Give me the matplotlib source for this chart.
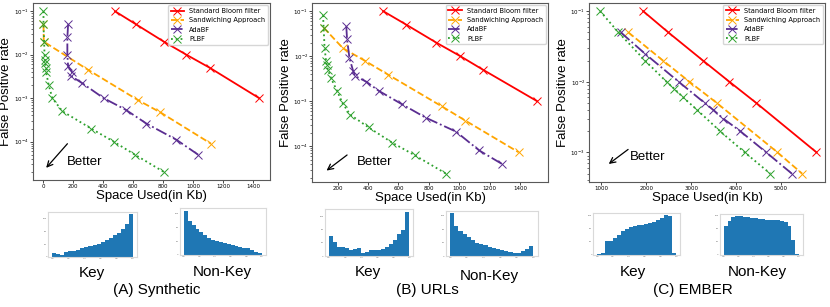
import matplotlib.pyplot as plt

# ---- (A) Synthetic ----
syn_bf_x = [480, 620, 805, 955, 1111, 1440]
syn_bf_y = [0.1, 0.05, 0.02, 0.01, 0.005, 0.001]
syn_sw_x = [3, 5, 300, 633, 782, 1118]
syn_sw_y = [0.05, 0.02, 0.0045, 0.0009, 0.00047, 0.00009]
syn_ada_x = [167, 162, 162, 167, 193, 189, 262, 404, 551, 689, 889, 1033]
syn_ada_y = [0.05, 0.025, 0.01, 0.0054, 0.004, 0.0032, 0.0022, 0.001,
             0.00054, 0.00026, 0.00011, 0.00005]
syn_plbf_x = [3, 3, 7, 10, 13, 13, 20, 20, 38, 62, 129, 320, 470, 612, 805]
syn_plbf_y = [0.1, 0.05, 0.02, 0.01, 0.0075, 0.0063, 0.005, 0.004, 0.002,
              0.001, 0.0005, 0.0002, 0.0001, 5e-5, 2e-5]

# ---- (B) URLs ----
url_bf_x = [500, 652, 849, 1007, 1156, 1512]
url_bf_y = [0.1, 0.05, 0.02, 0.01, 0.005, 0.001]
url_sw_x = [108, 235, 382, 531, 887, 1040, 1391]
url_sw_y = [0.043, 0.015, 0.0078, 0.0039, 0.00076, 0.00037, 0.000073]
url_ada_x = [257, 262, 278, 302, 316, 389, 470, 624, 779, 979, 1132, 1282]
url_ada_y = [0.046, 0.024, 0.009, 0.0047, 0.0036, 0.0027, 0.0017, 0.00085,
             0.00043, 0.00021, 0.00008, 0.00004]
url_plbf_x = [104, 108, 114, 124, 130, 137, 157, 196, 233, 283, 404, 558, 706, 913]
url_plbf_y = [0.081, 0.043, 0.0155, 0.0078, 0.0063, 0.0049, 0.0032, 0.0017,
              0.00089, 0.0005, 0.00026, 0.00012, 0.000063, 0.0000245]

# ---- (C) EMBER ----
emb_bf_x = [1930, 2490, 3260, 3850, 4450, 5790]
emb_bf_y = [0.1, 0.05, 0.02, 0.01, 0.005, 0.001]
emb_sw_x = [1600, 2370, 2960, 3570, 4920, 5470]
emb_sw_y = [0.05, 0.02, 0.01, 0.005, 0.001, 0.0005]
emb_ada_x = [1430, 1970, 2720, 3300, 3490, 3715, 4090, 4670, 5240]
emb_ada_y = [0.05, 0.025, 0.01, 0.005, 0.004, 0.003, 0.002, 0.001, 0.0005]
emb_plbf_x = [970, 1380, 1970, 2450, 2620, 2820, 3130, 3640, 4190, 4760]
emb_plbf_y = [0.1, 0.05, 0.02, 0.01, 0.008, 0.006, 0.004, 0.002, 0.001, 0.0005]

# ---- score histograms (20 bins on [0, 1]) ----
syn_key = [12, 10, 5, 15, 18, 19, 22, 27, 30, 35, 38, 41, 47, 52, 59, 67, 75, 87, 103, 133]
syn_nonkey = [130, 100, 87, 76, 66, 58, 50, 44, 40, 37, 34, 31, 29, 27, 24, 20, 19, 14, 10, 7]
url_key = [60, 42, 26, 27, 24, 19, 20, 23, 9, 12, 17, 18, 19, 22, 28, 36, 50, 66, 78, 135]
url_nonkey = [128, 90, 75, 66, 56, 47, 40, 37, 33, 28, 23, 21, 18, 15, 11, 8, 10, 15, 21, 31]
emb_key = [4, 5, 43, 44, 52, 62, 72, 80, 85, 88, 90, 92, 94, 96, 100, 106, 113, 121, 119, 5]
emb_nonkey = [90, 103, 116, 120, 119, 118, 117, 115, 113, 111, 110, 109, 108, 107, 106, 104,
              102, 90, 45, 4]

LABELS = ['Standard Bloom filter', 'Sandwiching Approach', 'AdaBF', 'PLBF']
COLORS = ['red', 'orange', '#5a2d91', '#2ca02c']
STYLES = ['-', '--', '-.', ':']
ARIAL = ['Liberation Sans', 'DejaVu Sans']

fig = plt.figure(figsize=(8.3, 3.07), dpi=100)


def main_panel(rect, series, arrow_tip, arrow_tail, text_pos, xlim=None):
    ax = fig.add_axes(rect)
    for (xs, ys), lab, c, ls in zip(series, LABELS, COLORS, STYLES):
        ax.plot(xs, ys, linestyle=ls, color=c, marker='x', markersize=6,
                markeredgewidth=0.7, linewidth=1.3, label=lab)
    ax.set_yscale('log')
    if xlim:
        ax.set_xlim(*xlim)
    ax.tick_params(labelsize=4, length=2, width=0.5, pad=1.2)
    ax.tick_params(which='minor', length=1.2, width=0.4)
    for s in ax.spines.values():
        s.set_color('0.35')
        s.set_linewidth(0.8)
    ax.set_ylabel('False Positive rate', fontsize=9.5, family=ARIAL, labelpad=1)
    ax.set_xlabel('Space Used(in Kb)', fontsize=9.5, family=ARIAL, labelpad=0.3)
    ax.legend(loc='upper right', fontsize=4.8, borderaxespad=0.3)
    ax.annotate('', xy=arrow_tip, xytext=arrow_tail, xycoords='axes fraction',
                arrowprops=dict(arrowstyle='->', color='black', lw=0.9))
    ax.text(text_pos[0], text_pos[1], 'Better', transform=ax.transAxes,
            fontsize=9.5, family=ARIAL, va='center', ha='left')
    return ax


def hist_panel(rect, heights):
    ax = fig.add_axes(rect)
    n = len(heights)
    centers = [(i + 0.5) / n for i in range(n)]
    ax.bar(centers, heights, width=1.0 / n, color='#1f77b4')
    ax.set_xticks([0, 0.2, 0.4, 0.6, 0.8, 1.0])
    ax.tick_params(labelsize=1.6, length=0, pad=1, colors='0.4')
    ax.yaxis.set_major_locator(plt.MaxNLocator(4))
    for s in ax.spines.values():
        s.set_color('0.85')
        s.set_linewidth(0.8)
    return ax


main_panel([0.0394, 0.4137, 0.2859, 0.5756],
           [(syn_bf_x, syn_bf_y), (syn_sw_x, syn_sw_y),
            (syn_ada_x, syn_ada_y), (syn_plbf_x, syn_plbf_y)],
           (0.049, 0.057), (0.154, 0.217), (0.143, 0.104))
main_panel([0.3763, 0.4081, 0.2836, 0.582],
           [(url_bf_x, url_bf_y), (url_sw_x, url_sw_y),
            (url_ada_x, url_ada_y), (url_plbf_x, url_plbf_y)],
           (0.051, 0.053), (0.157, 0.159), (0.191, 0.109))
main_panel([0.710, 0.4081, 0.284, 0.582],
           [(emb_bf_x, emb_bf_y), (emb_sw_x, emb_sw_y),
            (emb_ada_x, emb_ada_y), (emb_plbf_x, emb_plbf_y)],
           (0.073, 0.09), (0.174, 0.19), (0.171, 0.137), xlim=(730, 5980))

hist_panel([0.0582, 0.1629, 0.1065, 0.1475], syn_key)
hist_panel([0.2169, 0.1694, 0.1032, 0.152], syn_nonkey)
hist_panel([0.3916, 0.1661, 0.1064, 0.152], url_key)
hist_panel([0.5373, 0.1661, 0.1104, 0.1476], url_nonkey)
hist_panel([0.7148, 0.1694, 0.1044, 0.136], emb_key)
hist_panel([0.8675, 0.1694, 0.0996, 0.1336], emb_nonkey)

captions = [
    (0.1108, 0.1107, 'Key'), (0.2675, 0.114, 'Non-Key'), (0.189, 0.055, '(A) Synthetic'),
    (0.4434, 0.114, 'Key'), (0.589, 0.101, 'Non-Key'), (0.5145, 0.055, '(B) URLs'),
    (0.7627, 0.114, 'Key'), (0.913, 0.114, 'Non-Key'), (0.835, 0.055, '(C) EMBER'),
]
for x, y, t in captions:
    fig.text(x, y, t, fontsize=11, family=ARIAL, ha='center', va='center')

fig.savefig('out.png', dpi=100)
